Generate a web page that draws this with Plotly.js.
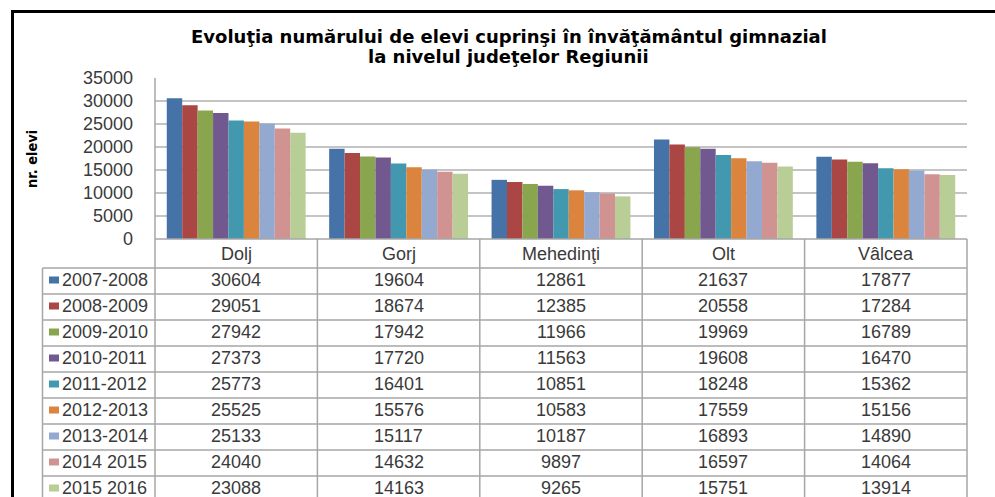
<!DOCTYPE html>
<html>
<head>
<meta charset="utf-8">
<script src="https://cdn.plot.ly/plotly-3.0.1.min.js"></script>
<style>
html,body{margin:0;padding:0;background:#fff;}
#chart{width:995px;height:497px;}
</style>
</head>
<body>
<div id="chart"></div>
<script>
// ---- data ----
const categories = ["Dolj", "Gorj", "Mehedinţi", "Olt", "Vâlcea"];
const seasons = ["2007-2008", "2008-2009", "2009-2010", "2010-2011", "2011-2012",
                 "2012-2013", "2013-2014", "2014 2015", "2015 2016"];
const v2007_2008 = [30604, 19604, 12861, 21637, 17877];
const v2008_2009 = [29051, 18674, 12385, 20558, 17284];
const v2009_2010 = [27942, 17942, 11966, 19969, 16789];
const v2010_2011 = [27373, 17720, 11563, 19608, 16470];
const v2011_2012 = [25773, 16401, 10851, 18248, 15362];
const v2012_2013 = [25525, 15576, 10583, 17559, 15156];
const v2013_2014 = [25133, 15117, 10187, 16893, 14890];
const v2014_2015 = [24040, 14632, 9897, 16597, 14064];
const v2015_2016 = [23088, 14163, 9265, 15751, 13914];
const yTicks = [0, 5000, 10000, 15000, 20000, 25000, 30000, 35000];
const titleLine1 = "Evoluţia numărului de elevi cuprinşi în învăţământul gimnazial";
const titleLine2 = "la nivelul judeţelor Regiunii";
const yTitle = "nr. elevi";

const seriesValues = [v2007_2008, v2008_2009, v2009_2010, v2010_2011, v2011_2012,
                      v2012_2013, v2013_2014, v2014_2015, v2015_2016];
const colors = ["#4572A7", "#AA4643", "#89A54E", "#71588F", "#4198AF",
                "#DB843D", "#93A9CF", "#D19392", "#B9CD96"];

// ---- geometry (pixels) ----
const W = 995, H = 497;
const L = 155, R = 967, T = 78, B = 239;
const pw = R - L, ph = B - T;
const px = p => (p - L) / pw;      // pixel x -> paper
const py = p => (B - p) / ph;      // pixel y -> paper

const headerBottom = 268, rowH = 26;
const txtColor = "#3a3a3a";
const lineColor = "#a6a6a6";
const font = "Liberation Sans, Arial, sans-serif";
const titleFont = "DejaVu Sans, Liberation Sans, Arial, sans-serif";

const traces = seasons.map((s, i) => ({
  type: "bar",
  name: s,
  x: categories,
  y: seriesValues[i],
  marker: { color: colors[i], line: { width: 0 } },
  hoverinfo: "x+y+name"
}));

const shapes = [];
const annotations = [];

// table top line (axis line)
shapes.push({ type: "line", xref: "paper", yref: "paper", x0: 0, x1: 1, y0: 0, y1: 0,
  line: { color: lineColor, width: 1.5 } });
// vertical column lines
for (let k = 0; k <= categories.length; k++) {
  shapes.push({ type: "line", xref: "paper", yref: "paper",
    x0: k / categories.length, x1: k / categories.length,
    y0: k === 0 ? 1 : 0, y1: py(H + 10),
    line: { color: lineColor, width: 1.5 } });
}
// legend column left border
shapes.push({ type: "line", xref: "paper", yref: "paper", x0: px(42.5), x1: px(42.5),
  y0: py(headerBottom), y1: py(H + 10), line: { color: lineColor, width: 1.5 } });
// horizontal row lines
for (let r = 0; r < seasons.length; r++) {
  const yy = headerBottom + r * rowH;
  shapes.push({ type: "line", xref: "paper", yref: "paper", x0: px(42.5), x1: 1,
    y0: py(yy), y1: py(yy), line: { color: lineColor, width: 1.5 } });
}
// header labels
categories.forEach((c, k) => {
  annotations.push({ xref: "paper", yref: "paper", x: (k + 0.5) / categories.length,
    y: py(254), text: c, showarrow: false, xanchor: "center", yanchor: "middle",
    font: { family: font, size: 18, color: txtColor } });
});
// rows
seasons.forEach((s, r) => {
  const cy = headerBottom + r * rowH + 12;
  shapes.push({ type: "rect", xref: "paper", yref: "paper",
    x0: px(49), x1: px(59), y0: py(cy - 3.5), y1: py(cy + 3.5),
    fillcolor: colors[r], line: { width: 0 } });
  annotations.push({ xref: "paper", yref: "paper", x: px(60), y: py(cy),
    text: s, showarrow: false, xanchor: "left", yanchor: "middle",
    font: { family: font, size: 18, color: txtColor } });
  categories.forEach((c, k) => {
    annotations.push({ xref: "paper", yref: "paper", x: (k + 0.5) / categories.length,
      y: py(cy), text: String(seriesValues[r][k]), showarrow: false,
      xanchor: "center", yanchor: "middle",
      font: { family: font, size: 18, color: txtColor } });
  });
});
// title line 2
annotations.push({ xref: "paper", yref: "paper", x: px(508), y: py(56.5),
  text: "<b>" + titleLine2 + "</b>", showarrow: false, xanchor: "center", yanchor: "middle",
  font: { family: titleFont, size: 18, color: "#000" } });
// y-axis title
annotations.push({ xref: "paper", yref: "paper", x: px(32), y: py(159),
  text: "<b>" + yTitle + "</b>", textangle: -90, showarrow: false,
  xanchor: "center", yanchor: "middle",
  font: { family: "DejaVu Sans Condensed, Liberation Sans Narrow, Arial Narrow, sans-serif", size: 14.5, color: "#000" } });

// outer chart border (thick black)
shapes.push({ type: "line", xref: "paper", yref: "paper", x0: px(12.5), x1: px(12.5),
  y0: py(10), y1: py(H + 10), line: { color: "#000", width: 3 } });
shapes.push({ type: "line", xref: "paper", yref: "paper", x0: px(11), x1: px(W + 10),
  y0: py(11.5), y1: py(11.5), line: { color: "#000", width: 3 } });

const layout = {
  width: W, height: H,
  margin: { l: L, r: W - R, t: T, b: H - B, pad: 0 },
  paper_bgcolor: "#fff", plot_bgcolor: "#fff",
  showlegend: false,
  barmode: "group", bargap: 0.145, bargroupgap: 0,
  title: {
    text: "<b>" + titleLine1 + "</b>",
    font: { family: titleFont, size: 18, color: "#000" },
    x: 509 / W, xanchor: "center", xref: "container",
    y: 1 - 36.5 / H, yanchor: "middle", yref: "container"
  },
  xaxis: {
    type: "category", range: [-0.5, 4.5], showticklabels: false, ticks: "",
    showgrid: false, zeroline: false, showline: false, fixedrange: true
  },
  yaxis: {
    range: [0, 35000], tickvals: yTicks, ticktext: yTicks.map(String),
    showgrid: true, gridcolor: "#c4c4c4", gridwidth: 1.5,
    zeroline: false, showline: false, ticks: "",
    ticklabelstandoff: 21,
    tickfont: { family: font, size: 18, color: txtColor }, fixedrange: true
  },
  shapes: shapes,
  annotations: annotations
};

Plotly.newPlot("chart", traces, layout, { displayModeBar: false, staticPlot: true });
</script>
</body>
</html>
